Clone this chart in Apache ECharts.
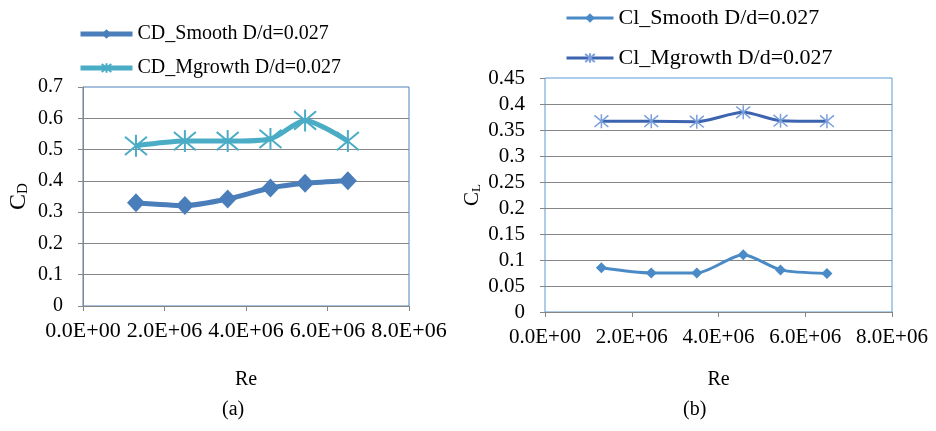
<!DOCTYPE html>
<html><head><meta charset="utf-8">
<script src="https://cdn.jsdelivr.net/npm/echarts@6/dist/echarts.min.js"></script>
<style>html,body{margin:0;padding:0;background:#fff}#c{width:936px;height:431px}</style>
</head><body><div id="c"></div>
<script>
// ---- data ----
var reLeft = [1.3e6, 2.5e6, 3.55e6, 4.6e6, 5.45e6, 6.5e6];
var cdSmooth = [0.330, 0.321, 0.342, 0.377, 0.392, 0.400];
var cdMgrowth = [0.512, 0.527, 0.527, 0.534, 0.593, 0.527];
var reRight = [1.3e6, 2.45e6, 3.5e6, 4.57e6, 5.43e6, 6.5e6];
var clSmooth = [0.085, 0.075, 0.075, 0.110, 0.081, 0.074];
var clMgrowth = [0.367, 0.367, 0.366, 0.384, 0.368, 0.367];
var seriesNames = ['CD_Smooth D/d=0.027', 'CD_Mgrowth D/d=0.027', 'Cl_Smooth D/d=0.027', 'Cl_Mgrowth D/d=0.027'];
var xTickLabels = ['0.0E+00', '2.0E+06', '4.0E+06', '6.0E+06', '8.0E+06'];

function pairs(xs, ys) { return xs.map(function (x, i) { return [x, ys[i]]; }); }
var FONT = 'Liberation Serif';
var STAR = 'path://M0,0 L10,10 M10,0 L0,10 M5,-1 L5,11';
function xLabel(v) { return xTickLabels[Math.round(v / 2e6)]; }

var gray = '#868686';
var chart = echarts.init(document.getElementById('c'), null, {renderer: 'canvas'});
chart.setOption({
  animation: false,
  textStyle: {fontFamily: FONT, color: '#000'},
  grid: [
    {left: 83, top: 87, width: 326, height: 219, show: true, borderColor: '#4F81BD', borderWidth: 1, backgroundColor: 'transparent'},
    {left: 545, top: 78, width: 347, height: 234, show: true, borderColor: '#5B9BD5', borderWidth: 1, backgroundColor: 'transparent'}
  ],
  xAxis: [
    {gridIndex: 0, type: 'value', min: 0, max: 8e6, interval: 2e6,
     name: 'Re', nameLocation: 'middle', nameGap: 64, nameTextStyle: {fontFamily: FONT, fontSize: 20, color: '#000'},
     axisLine: {show: true, lineStyle: {color: gray}}, axisTick: {show: true, length: 5, lineStyle: {color: gray}},
     splitLine: {show: false},
     axisLabel: {formatter: xLabel, fontFamily: FONT, fontSize: 22, color: '#000', margin: 14, hideOverlap: false}},
    {gridIndex: 1, type: 'value', min: 0, max: 8e6, interval: 2e6,
     name: 'Re', nameLocation: 'middle', nameGap: 58, nameTextStyle: {fontFamily: FONT, fontSize: 20, color: '#000'},
     axisLine: {show: true, lineStyle: {color: gray}}, axisTick: {show: true, length: 5, lineStyle: {color: gray}},
     splitLine: {show: false},
     axisLabel: {formatter: xLabel, fontFamily: FONT, fontSize: 21, color: '#000', margin: 15, hideOverlap: false}}
  ],
  yAxis: [
    {gridIndex: 0, type: 'value', min: 0, max: 0.7, interval: 0.1,
     name: '{b|C}{s|D}', nameLocation: 'middle', nameGap: 52, nameRotate: 90,
     nameTextStyle: {rich: {b: {fontFamily: FONT, fontSize: 24, color: '#000'}, s: {fontFamily: FONT, fontSize: 15, color: '#000', padding: [10, 0, 0, 0]}}},
     axisLine: {show: true, lineStyle: {color: gray}}, axisTick: {show: true, length: 5, lineStyle: {color: gray}},
     splitLine: {show: true, showMaxLine: false, lineStyle: {color: gray, width: 1}},
     axisLabel: {fontFamily: FONT, fontSize: 20, color: '#000', margin: 20}},
    {gridIndex: 1, type: 'value', min: 0, max: 0.45, interval: 0.05,
     name: '{b|C}{s|L}', nameLocation: 'middle', nameGap: 62, nameRotate: 90,
     nameTextStyle: {rich: {b: {fontFamily: FONT, fontSize: 21, color: '#000'}, s: {fontFamily: FONT, fontSize: 13, color: '#000', padding: [8, 0, 0, 0]}}},
     axisLine: {show: false}, axisTick: {show: true, length: 5, lineStyle: {color: gray}},
     splitLine: {show: true, showMaxLine: false, lineStyle: {color: gray, width: 1}},
     axisLabel: {fontFamily: FONT, fontSize: 21, color: '#000', margin: 20}}
  ],
  legend: [
    {data: [seriesNames[0], seriesNames[1]], orient: 'vertical', left: 78, top: 24, padding: 0, itemWidth: 52, itemHeight: 12, itemGap: 14,
     lineStyle: {width: 5}, textStyle: {fontFamily: FONT, fontSize: 20, color: '#000'}},
    {data: [seriesNames[2], seriesNames[3]], orient: 'vertical', left: 565, top: 7, padding: 0, itemWidth: 47, itemHeight: 12, itemGap: 18,
     lineStyle: {width: 3}, textStyle: {fontFamily: FONT, fontSize: 22, color: '#000'}}
  ],
  graphic: [
    {type: 'text', left: 222, top: 400, style: {text: '(a)', font: '20px "Liberation Serif"', fill: '#000'}},
    {type: 'text', left: 683, top: 400, style: {text: '(b)', font: '20px "Liberation Serif"', fill: '#000'}}
  ],
  series: [
    {name: seriesNames[0], type: 'line', xAxisIndex: 0, yAxisIndex: 0, data: pairs(reLeft, cdSmooth), smooth: 0.25,
     symbol: 'diamond', symbolSize: [18, 19], lineStyle: {color: '#4A7EBB', width: 5},
     itemStyle: {color: '#4A7EBB'}},
    {name: seriesNames[1], type: 'line', xAxisIndex: 0, yAxisIndex: 0, data: pairs(reLeft, cdMgrowth), smooth: 0.25,
     symbol: STAR, symbolSize: 22, lineStyle: {color: '#4BACC6', width: 5},
     itemStyle: {color: 'rgba(0,0,0,0)', borderColor: '#4BACC6', borderWidth: 2}},
    {name: seriesNames[2], type: 'line', xAxisIndex: 1, yAxisIndex: 1, data: pairs(reRight, clSmooth), smooth: 0.25,
     symbol: 'diamond', symbolSize: 11, lineStyle: {color: '#4A8AC6', width: 3},
     itemStyle: {color: '#4A8AC6'}},
    {name: seriesNames[3], type: 'line', xAxisIndex: 1, yAxisIndex: 1, data: pairs(reRight, clMgrowth), smooth: 0.25,
     symbol: STAR, symbolSize: 14, lineStyle: {color: '#3D64B0', width: 3},
     itemStyle: {color: 'rgba(0,0,0,0)', borderColor: '#7A9FDB', borderWidth: 1.5}}
  ]
});
</script>
</body></html>
